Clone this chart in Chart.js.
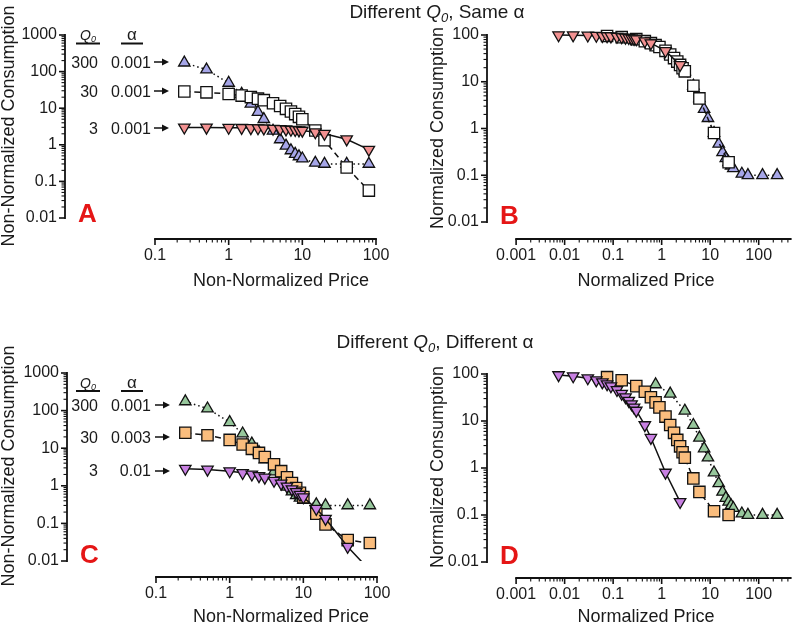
<!DOCTYPE html>
<html>
<head>
<meta charset="utf-8">
<script src="https://cdn.jsdelivr.net/npm/chart.js@4.4.1/dist/chart.umd.min.js"></script>
<style>
  html, body { margin: 0; padding: 0; background: #fff; overflow: hidden; }
  #wrap { position: relative; width: 800px; height: 623px; }
  canvas, svg { position: absolute; left: 0; top: 0; }
  svg text { font-family: 'Liberation Sans', Arial, sans-serif; fill: #1a1a1a; }
  .narrow { font-family: 'Liberation Sans Narrow', 'Liberation Sans', Arial, sans-serif; }
  .letter { font-weight: bold; fill: #e51616; font-size: 26px; }
</style>
</head>
<body>
<div id="wrap">
  <canvas id="chartA" width="800" height="623"></canvas>
  <canvas id="chartB" width="800" height="623"></canvas>
  <canvas id="chartC" width="800" height="623"></canvas>
  <canvas id="chartD" width="800" height="623"></canvas>
  <svg width="800" height="623">
    <!-- titles -->
    <text x="437" y="18" text-anchor="middle" font-size="19">Different <tspan font-style="italic">Q</tspan><tspan font-style="italic" font-size="13" dy="4">0</tspan><tspan dy="-4">, Same α</tspan></text>
    <text x="435" y="348" text-anchor="middle" font-size="19">Different <tspan font-style="italic">Q</tspan><tspan font-style="italic" font-size="13" dy="4">0</tspan><tspan dy="-4">, Different α</tspan></text>

    <!-- axis titles -->
    <text transform="translate(14,126) rotate(-90)" text-anchor="middle" font-size="18">Non-Normalized Consumption</text>
    <text x="281" y="286" text-anchor="middle" font-size="18">Non-Normalized Price</text>
    <text transform="translate(443,128) rotate(-90)" text-anchor="middle" font-size="18">Normalized Consumption</text>
    <text x="646" y="286" text-anchor="middle" font-size="18">Normalized Price</text>
    <text transform="translate(14,466) rotate(-90)" text-anchor="middle" font-size="18">Non-Normalized Consumption</text>
    <text x="281" y="622" text-anchor="middle" font-size="18">Non-Normalized Price</text>
    <text transform="translate(443,467) rotate(-90)" text-anchor="middle" font-size="18">Normalized Consumption</text>
    <text x="646" y="622" text-anchor="middle" font-size="18">Normalized Price</text>

    <!-- panel letters -->
    <text class="letter" x="78" y="222">A</text>
    <text class="letter" x="500" y="224">B</text>
    <text class="letter" x="80" y="563">C</text>
    <text class="letter" x="500" y="564">D</text>

    <!-- parameter tables -->
    <g class="narrow" font-size="16">
      <text x="88" y="40" text-anchor="middle" font-size="14"><tspan font-style="italic">Q</tspan><tspan font-style="italic" font-size="9" dy="2">0</tspan></text>
      <text x="132" y="40" text-anchor="middle" font-size="17">α</text>
      <text x="98" y="67.5" text-anchor="end">300</text>
      <text x="151" y="67.5" text-anchor="end">0.001</text>
      <text x="98" y="96.5" text-anchor="end">30</text>
      <text x="151" y="96.5" text-anchor="end">0.001</text>
      <text x="98" y="133.5" text-anchor="end">3</text>
      <text x="151" y="133.5" text-anchor="end">0.001</text>

      <text x="88" y="388" text-anchor="middle" font-size="14"><tspan font-style="italic">Q</tspan><tspan font-style="italic" font-size="9" dy="2">0</tspan></text>
      <text x="132" y="388" text-anchor="middle" font-size="17">α</text>
      <text x="98" y="410.5" text-anchor="end">300</text>
      <text x="151" y="410.5" text-anchor="end">0.001</text>
      <text x="98" y="442.5" text-anchor="end">30</text>
      <text x="151" y="442.5" text-anchor="end">0.003</text>
      <text x="98" y="476" text-anchor="end">3</text>
      <text x="151" y="476" text-anchor="end">0.01</text>
    </g>
    <g stroke="#111" stroke-width="2">
      <line x1="76" y1="43.5" x2="100" y2="43.5"/>
      <line x1="121" y1="43.5" x2="143" y2="43.5"/>
      <line x1="76" y1="391" x2="100" y2="391"/>
      <line x1="121" y1="391" x2="143" y2="391"/>
    </g>
    <g stroke="#111" stroke-width="1.5" fill="#111">
      <line x1="154" y1="62" x2="164" y2="62"/><polygon stroke="none" points="162,58.5 169,62 162,65.5"/>
      <line x1="154" y1="91" x2="164" y2="91"/><polygon stroke="none" points="162,87.5 169,91 162,94.5"/>
      <line x1="154" y1="128" x2="164" y2="128"/><polygon stroke="none" points="162,124.5 169,128 162,131.5"/>
      <line x1="155" y1="405" x2="165" y2="405"/><polygon stroke="none" points="163,401.5 170,405 163,408.5"/>
      <line x1="155" y1="437" x2="165" y2="437"/><polygon stroke="none" points="163,433.5 170,437 163,440.5"/>
      <line x1="155" y1="471" x2="165" y2="471"/><polygon stroke="none" points="163,467.5 170,471 163,474.5"/>
    </g>
  </svg>
</div>
<script>
// Prices used in the purchase task (non-normalized)
const prices = [0.25, 0.5, 1, 1.5, 2, 2.5, 3, 4, 5, 6, 7, 8, 9, 10, 15, 20, 40, 80];

// Panel A: non-normalized consumption, same alpha
const aQ300 = [175, 113, 49, 24.5, 13.2, 7.8, 5.0, 2.4, 1.40, 0.94, 0.70, 0.56, 0.48, 0.42, 0.32, 0.30, 0.30, 0.30];
const aQ30 = [28.5, 27.1, 24.5, 22.1, 20.1, 18.2, 16.6, 13.7, 11.5, 9.6, 8.1, 6.9, 5.8, 5.0, 2.45, 1.33, 0.24, 0.056];
const aQ3 = [2.98, 2.97, 2.94, 2.91, 2.88, 2.85, 2.82, 2.76, 2.71, 2.65, 2.60, 2.55, 2.50, 2.45, 2.21, 2.01, 1.42, 0.74];

// Normalized prices
const nPrice300 = [0.75, 1.5, 3, 4.5, 6, 7.5, 9, 12, 15, 18, 21, 24, 27, 30, 45, 60, 120, 240];
const nPrice30 = [0.075, 0.15, 0.3, 0.45, 0.6, 0.75, 0.9, 1.2, 1.5, 1.8, 2.1, 2.4, 2.7, 3, 4.5, 6, 12, 24];
const nPrice3 = [0.0075, 0.015, 0.03, 0.045, 0.06, 0.075, 0.09, 0.12, 0.15, 0.18, 0.21, 0.24, 0.27, 0.3, 0.45, 0.6, 1.2, 2.4];

// Panel B: normalized consumption, same alpha
const bQ300 = [60, 38, 16.5, 8.2, 4.4, 2.6, 1.66, 0.80, 0.47, 0.31, 0.23, 0.19, 0.16, 0.14, 0.107, 0.10, 0.10, 0.10];
const bQ30 = [95, 90, 81.5, 73.8, 66.9, 60.7, 55.2, 45.8, 38.2, 32.1, 27.0, 22.9, 19.5, 16.7, 8.2, 4.4, 0.80, 0.19];
const bQ3 = [99.5, 99, 97.9, 97, 96, 95, 94, 92.1, 90.2, 88.4, 86.6, 84.9, 83.2, 81.5, 73.8, 66.9, 45.8, 22.9];

// Panel C: non-normalized consumption, different alpha
const cQ300 = [175, 113, 49, 24.5, 13.2, 7.8, 5.0, 2.4, 1.40, 0.94, 0.70, 0.56, 0.48, 0.42, 0.32, 0.30, 0.30, 0.30];
const cQ30 = [25.7, 22.1, 16.6, 12.5, 9.6, 7.5, 5.85, 3.72, 2.45, 1.68, 1.19, 0.87, 0.65, 0.50, 0.18, 0.094, 0.036, 0.030];
const cQ3 = [2.85, 2.71, 2.45, 2.21, 2.01, 1.82, 1.66, 1.37, 1.15, 0.96, 0.81, 0.69, 0.58, 0.50, 0.245, 0.133, 0.024, 0.0056];

// Panel D: normalized consumption, different alpha
const dQ300 = [60, 38, 16.5, 8.2, 4.4, 2.6, 1.66, 0.80, 0.47, 0.31, 0.23, 0.19, 0.16, 0.14, 0.107, 0.10, 0.10, 0.10];
const dQ30 = [85.7, 73.8, 55.2, 41.8, 32.1, 24.9, 19.5, 12.4, 8.2, 5.6, 3.96, 2.89, 2.16, 1.66, 0.60, 0.31, 0.12, 0.10];
const dQ3 = [95, 90, 81.5, 73.8, 66.9, 60.7, 55.2, 45.8, 38.2, 32.1, 27.0, 22.9, 19.5, 16.7, 8.2, 4.4, 0.80, 0.19];

// Tick labels
const ticksNonNormX = [0.1, 1, 10, 100];
const ticksNormX = [0.001, 0.01, 0.1, 1, 10, 100];
const ticksNonNormY = [0.01, 0.1, 1, 10, 100, 1000];
const ticksNormY = [0.01, 0.1, 1, 10, 100];

const LAVENDER = '#a6a6e8', PINK = '#f29191', WHITE = '#ffffff';
const GREEN = '#97c79c', ORANGE = '#fabd7d', PURPLE = '#c880e2';

const up = { shape: 'triangle', rot: 0, r: 6.6 };
const down = { shape: 'triangle', rot: 180, r: 6.6 };
const square = { shape: 'rect', rot: 0, r: 8 };

function series(xs, ys, marker, fill, dash, clip) {
  return {
    data: xs.map((x, i) => ({ x: x, y: ys[i] })),
    showLine: true,
    borderColor: '#111',
    borderWidth: 1.5,
    borderDash: dash,
    tension: 0,
    pointStyle: marker.shape,
    rotation: marker.rot,
    pointRadius: marker.r,
    pointBackgroundColor: fill,
    pointBorderColor: '#111',
    pointBorderWidth: 1.3,
    clip: clip === undefined ? false : clip
  };
}

// Prism style detached log axes with minor ticks
const prismAxes = {
  id: 'prismAxes',
  beforeDatasetsDraw(chart, args, o) {
    const ctx = chart.ctx, area = chart.chartArea;
    const xs = chart.scales.x, ys = chart.scales.y;
    ctx.save();
    ctx.strokeStyle = '#111';
    ctx.lineCap = 'butt';
    // x axis
    const xa = xs.getPixelForValue(o.xLo), xb = xs.getPixelForValue(o.xHi);
    const yb0 = area.bottom;
    ctx.lineWidth = 1.8;
    ctx.beginPath(); ctx.moveTo(xa - 0.9, yb0); ctx.lineTo(xb + 0.9, yb0); ctx.stroke();
    eachTick(o.xLo, o.xHi, (v, major) => {
      const p = xs.getPixelForValue(v);
      ctx.lineWidth = major ? 1.6 : 1.1;
      ctx.beginPath(); ctx.moveTo(p, yb0); ctx.lineTo(p, yb0 + (major ? 6 : 3.5)); ctx.stroke();
    });
    // y axis
    const ya = ys.getPixelForValue(o.yLo), yb = ys.getPixelForValue(o.yHi);
    const x0 = area.left;
    ctx.lineWidth = 1.8;
    ctx.beginPath(); ctx.moveTo(x0, ya + 0.9); ctx.lineTo(x0, yb - 0.9); ctx.stroke();
    eachTick(o.yLo, o.yHi, (v, major) => {
      const p = ys.getPixelForValue(v);
      ctx.lineWidth = major ? 1.6 : 1.1;
      ctx.beginPath(); ctx.moveTo(x0, p); ctx.lineTo(x0 - (major ? 6 : 3.5), p); ctx.stroke();
    });
    ctx.restore();
  }
};

function eachTick(lo, hi, fn) {
  const e0 = Math.floor(Math.log10(lo) + 1e-9), e1 = Math.ceil(Math.log10(hi));
  for (let e = e0; e <= e1; e++) {
    for (let m = 1; m <= 9; m++) {
      const v = m * Math.pow(10, e);
      if (v < lo * 0.999 || v > hi * 1.001) continue;
      fn(v, m === 1);
    }
  }
}

function panel(id, g, datasets) {
  const xPer = (g.xHiPix - g.xLoPix) / Math.log10(g.xHiVal / g.xLoVal);
  const xMin = g.xLoVal / Math.pow(10, (g.xLoPix - g.yAxisX) / xPer);
  const xMax = g.xHiVal * Math.pow(10, (g.right - g.xHiPix) / xPer);
  const yPer = (g.yLoPix - g.yHiPix) / Math.log10(g.yHiVal / g.yLoVal);
  const yMin = g.yLoVal / Math.pow(10, (g.xAxisY - g.yLoPix) / yPer);
  const yMax = g.yHiVal;
  const tickFont = { family: "'Liberation Sans', Arial, sans-serif", size: 16 };
  new Chart(document.getElementById(id), {
    type: 'scatter',
    data: { datasets: datasets },
    options: {
      responsive: false,
      animation: false,
      layout: { padding: { left: g.yAxisX - 60, top: g.yHiPix, right: 800 - g.right, bottom: 623 - g.xAxisY - 40 } },
      plugins: {
        legend: { display: false },
        tooltip: { enabled: false },
        prismAxes: { xLo: g.xLoVal, xHi: Math.min(xMax, g.xTicks[g.xTicks.length - 1] * 10), yLo: g.yLoVal, yHi: g.yHiVal }
      },
      scales: {
        x: {
          type: 'logarithmic', min: xMin, max: xMax, bounds: 'data',
          grid: { display: false, drawTicks: false }, border: { display: false },
          afterBuildTicks: s => { s.ticks = g.xTicks.map(v => ({ value: v })); },
          afterFit: s => { s.height = 40; },
          ticks: { autoSkip: false, maxRotation: 0, padding: 7, color: '#1a1a1a', font: tickFont, callback: v => String(v) }
        },
        y: {
          type: 'logarithmic', min: yMin, max: yMax, bounds: 'data',
          grid: { display: false, drawTicks: false }, border: { display: false },
          afterBuildTicks: s => { s.ticks = g.yTicks.map(v => ({ value: v })); },
          afterFit: s => { s.width = 60; },
          ticks: { autoSkip: false, padding: 8, color: '#1a1a1a', font: tickFont, callback: v => String(v) }
        }
      }
    },
    plugins: [prismAxes]
  });
}

const dotted = [1.5, 3], dashed = [6, 4], solid = [];

panel('chartA',
  { yAxisX: 65, yHiPix: 35, yHiVal: 1000, yLoPix: 218, yLoVal: 0.01, xAxisY: 239,
    xLoPix: 155, xLoVal: 0.1, xHiPix: 376, xHiVal: 100, right: 376,
    xTicks: ticksNonNormX, yTicks: ticksNonNormY },
  [series(prices, aQ3, down, PINK, solid),
   series(prices, aQ30, square, WHITE, dashed),
   series(prices, aQ300, up, LAVENDER, dotted)]);

panel('chartB',
  { yAxisX: 487, yHiPix: 35, yHiVal: 100, yLoPix: 222, yLoVal: 0.01, xAxisY: 239,
    xLoPix: 517, xLoVal: 0.001, xHiPix: 767, xHiVal: 100, right: 800,
    xTicks: ticksNormX, yTicks: ticksNormY },
  [series(nPrice3, bQ3, down, PINK, solid),
   series(nPrice30, bQ30, square, WHITE, dashed),
   series(nPrice300, bQ300, up, LAVENDER, dotted)]);

panel('chartC',
  { yAxisX: 67, yHiPix: 373, yHiVal: 1000, yLoPix: 561, yLoVal: 0.01, xAxisY: 577,
    xLoPix: 156, xLoVal: 0.1, xHiPix: 377, xHiVal: 100, right: 377,
    xTicks: ticksNonNormX, yTicks: ticksNonNormY },
  [series(prices, cQ3, down, PURPLE, solid, { left: false, top: false, right: false, bottom: -16 }),
   series(prices, cQ30, square, ORANGE, dashed),
   series(prices, cQ300, up, GREEN, dotted)]);

panel('chartD',
  { yAxisX: 487, yHiPix: 374, yHiVal: 100, yLoPix: 562, yLoVal: 0.01, xAxisY: 578,
    xLoPix: 517, xLoVal: 0.001, xHiPix: 767, xHiVal: 100, right: 800,
    xTicks: ticksNormX, yTicks: ticksNormY },
  [series(nPrice3, dQ3, down, PURPLE, solid),
   series(nPrice30, dQ30, square, ORANGE, dashed),
   series(nPrice300, dQ300, up, GREEN, dotted)]);
</script>
</body>
</html>
